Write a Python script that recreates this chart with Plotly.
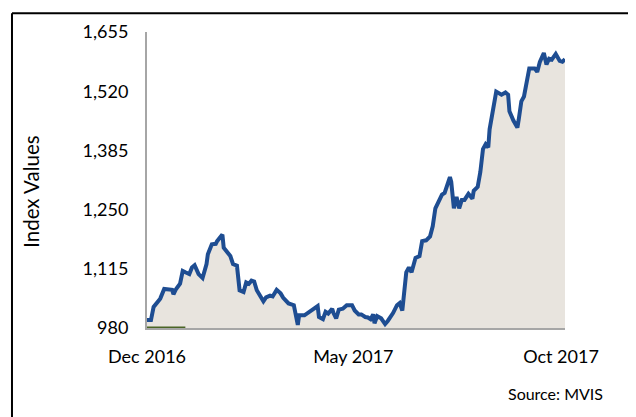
import plotly.graph_objects as go

# Trading-day offsets (calendar days from 1 Dec 2016) and index values
day = [0, 3, 5, 7, 10, 13, 16, 19, 20, 22, 25, 27, 29, 32, 34, 36, 39, 42, 45, 46,
       49, 52, 53, 55, 57, 58, 61, 63, 65, 68, 70, 73, 75, 77, 79, 81, 83, 85, 88, 90,
       93, 95, 98, 101, 103, 107, 111, 114, 115, 119, 123, 126, 129, 130, 133, 135, 137, 140, 141, 143,
       145, 148, 151, 155, 157, 160, 162, 165, 167, 169, 171, 172, 174, 177, 180, 182, 186, 189, 191, 193,
       194, 196, 198, 200, 203, 206, 208, 211, 214, 216, 218, 222, 223, 225, 227, 229, 230, 232, 234, 236,
       238, 240, 243, 246, 247, 250, 252, 254, 256, 258, 259, 264, 268, 271, 273, 274, 277, 280, 281, 283,
       285, 289, 293, 295, 297, 300, 302, 304, 306, 309, 312, 314, 316]
index_values = [998, 998, 1028, 1036, 1047, 1069, 1068, 1067, 1057, 1069, 1081, 1110, 1107, 1103, 1118, 1123, 1103, 1094, 1126, 1148,
                1171, 1172, 1178, 1185, 1193, 1163, 1152, 1144, 1126, 1122, 1066, 1062, 1084, 1081, 1088, 1086, 1066, 1054, 1041, 1050,
                1054, 1052, 1067, 1059, 1049, 1036, 1032, 987, 1009, 1009, 1017, 1024, 1030, 1005, 1000, 1017, 1013, 1024, 1014, 1002,
                1022, 1024, 1032, 1032, 1020, 1011, 1011, 1005, 1004, 1000, 1011, 991, 1007, 1002, 989, 996, 1014, 1032, 1037, 1020,
                1054, 1107, 1118, 1107, 1140, 1144, 1178, 1180, 1189, 1212, 1253, 1275, 1284, 1288, 1306, 1324, 1313, 1253, 1279, 1253,
                1272, 1272, 1286, 1275, 1293, 1302, 1336, 1388, 1399, 1392, 1433, 1519, 1512, 1517, 1512, 1474, 1453, 1437, 1455, 1497,
                1508, 1572, 1572, 1564, 1587, 1607, 1581, 1594, 1592, 1605, 1589, 1587, 1593]

# Second (baseline) series visible only at the start
base_day = [0, 29]
base_values = [980, 980]

y_ticks = [980, 1115, 1250, 1385, 1520, 1655]
x_tick_days = [0, 156, 313]
x_tick_labels = ["Dec 2016", "May 2017", "Oct 2017"]

FONT = "Lato, 'Open Sans', sans-serif"

fig = go.Figure()
fig.add_trace(go.Scatter(
    x=day, y=index_values, mode="lines",
    line=dict(color="#1E4D92", width=4),
    fill="tozeroy", fillcolor="#E8E4DE",
    hoverinfo="x+y", showlegend=False,
))
fig.add_trace(go.Scatter(
    x=base_day, y=base_values, mode="lines",
    line=dict(color="#4A6526", width=3),
    showlegend=False, cliponaxis=False,
))

fig.update_layout(
    width=628, height=409,
    margin=dict(l=139, r=71, t=20, b=89),
    paper_bgcolor="white", plot_bgcolor="white",
    font=dict(family=FONT, size=18, color="#000000"),
    showlegend=False,
    xaxis=dict(
        range=[0, 316], tickvals=x_tick_days, ticktext=x_tick_labels,
        showgrid=False, zeroline=False, showline=True, linecolor="#A6A6A6", linewidth=2,
        ticks="", ticklabelstandoff=11, layer="below traces",
        tickfont=dict(family=FONT, size=18, color="#000000"),
    ),
    yaxis=dict(
        range=[980, 1655], tickvals=y_ticks, tickformat=",",
        showgrid=False, zeroline=False, showline=True, linecolor="#A6A6A6", linewidth=2,
        ticks="", ticklabelstandoff=13,
        tickfont=dict(family=FONT, size=18, color="#000000"),
    ),
    annotations=[
        dict(text="Index Values", textangle=-90, xref="paper", yref="paper",
             x=-0.2775, y=0.46, xanchor="center", yanchor="middle", showarrow=False,
             font=dict(family=FONT, size=20.5, color="#000000")),
        dict(text="Source: MVIS", xref="paper", yref="paper",
             x=0.978, y=-0.22, xanchor="center", yanchor="middle", showarrow=False,
             font=dict(family=FONT, size=16, color="#000000")),
    ],
    shapes=[
        dict(type="line", xref="paper", yref="paper", x0=-0.323, x1=-0.323, y0=1.0633, y1=-0.4,
             line=dict(color="#000000", width=2)),
        dict(type="line", xref="paper", yref="paper", x0=-0.323, x1=1.3, y0=1.0633, y1=1.0633,
             line=dict(color="#000000", width=2)),
    ],
)

fig.write_html("out.html")
